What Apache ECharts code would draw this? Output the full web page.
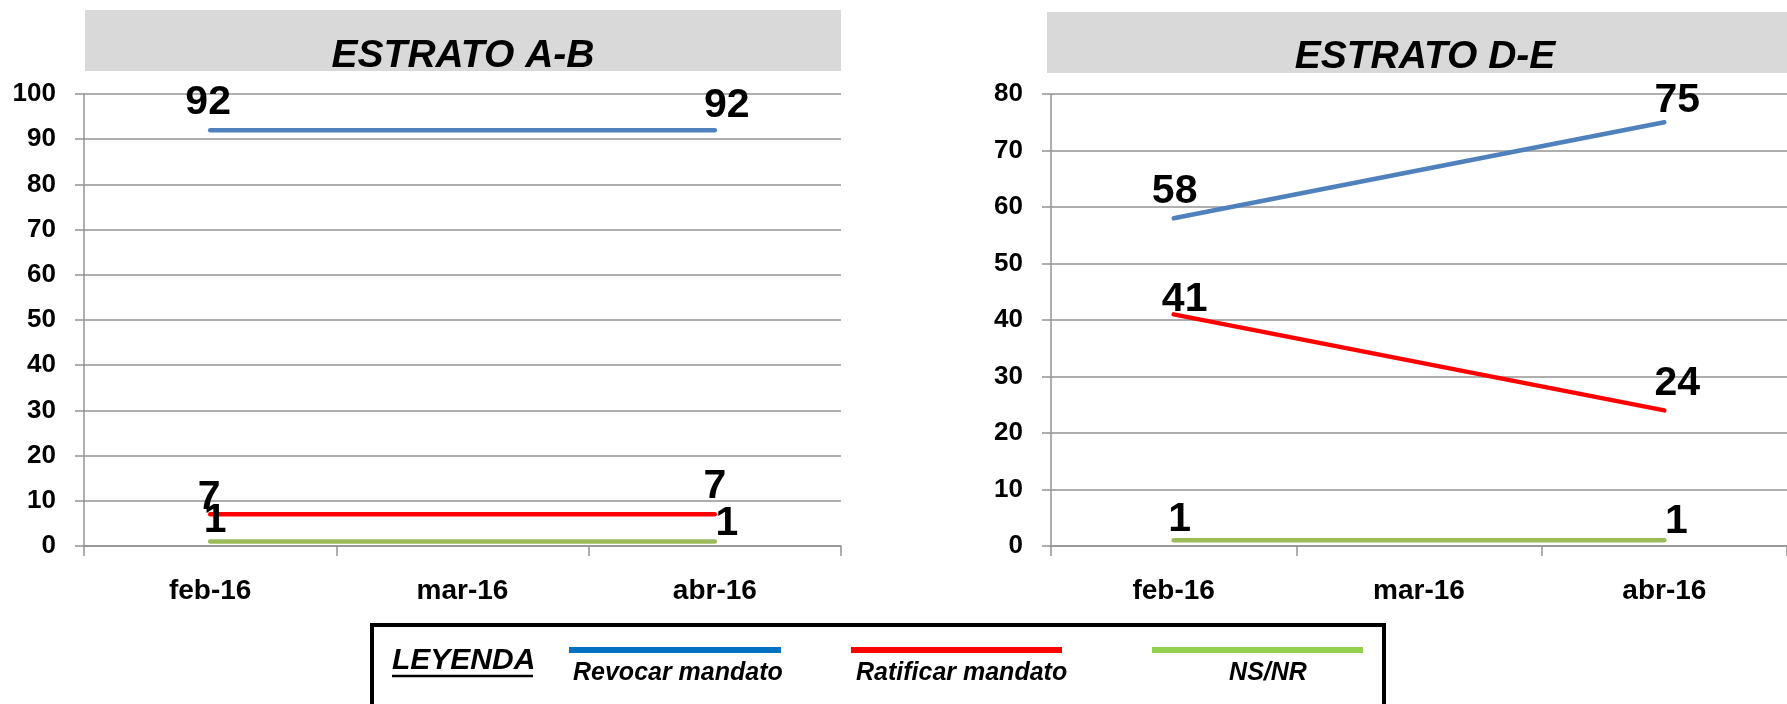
<!DOCTYPE html>
<html>
<head>
<meta charset="utf-8">
<title>Estrato A-B / D-E</title>
<script src="https://cdn.jsdelivr.net/npm/echarts@6/dist/echarts.min.js"></script>
<style>
  html, body { margin: 0; padding: 0; background: #fff; }
  #chart { width: 1787px; height: 704px; }
</style>
</head>
<body>
<div id="chart"></div>
<script>
// datos
var months = ['feb-16', 'mar-16', 'abr-16'];
var seriesNames = ['Revocar mandato', 'Ratificar mandato', 'NS/NR'];
var estratoAB_revocar = [92, null, 92];
var estratoAB_ratificar = [7, null, 7];
var estratoAB_nsnr = [1, null, 1];
var estratoDE_revocar = [58, null, 75];
var estratoDE_ratificar = [41, null, 24];
var estratoDE_nsnr = [1, null, 1];
var panelTitles = ['ESTRATO A-B', 'ESTRATO D-E'];

var FONT = '"Liberation Sans", Arial, sans-serif';
var lineColors = ['#4F81BD', '#FF0000', '#9BBB59'];
var legendColors = ['#0070C0', '#FF0000', '#92D050'];
var gridColor = '#939393';

// desplazamiento de etiquetas (como en el original, a mano)
var labelNudge = {
  ab: [[[-2, -14], [12, -11]], [[-1, -4], [0, -15]], [[5, -8], [12, -5]]],
  de: [[[1, -14], [13, -9]], [[11, -2], [13, -14]], [[6, -8], [12, -6]]]
};

function points(values, nudges) {
  var k = 0;
  return values.map(function (v) {
    if (v == null) return null;
    var n = nudges[k++];
    return { value: v, label: { offset: [n[0], n[1] + 8] } };
  });
}

function makeSeries(gridIdx, lists, nudges) {
  return lists.map(function (vals, i) {
    return {
      name: seriesNames[i],
      type: 'line',
      xAxisIndex: gridIdx,
      yAxisIndex: gridIdx,
      data: points(vals, nudges[i]),
      connectNulls: true,
      symbol: 'circle',
      symbolSize: 1,
      itemStyle: { color: lineColors[i] },
      lineStyle: { color: lineColors[i], width: 4.5, cap: 'round' },
      label: {
        show: true, position: 'top', distance: 0,
        fontFamily: FONT, fontSize: 41, fontWeight: 'bold', color: '#000'
      },
      animation: false
    };
  });
}

function xAxis(gridIdx) {
  return {
    type: 'category', gridIndex: gridIdx, data: months,
    axisLine: { show: true, lineStyle: { color: gridColor, width: 1.5 } },
    axisTick: { show: true, length: 10, lineStyle: { color: gridColor, width: 1.5 } },
    axisLabel: { margin: 31, fontFamily: FONT, fontSize: 28, fontWeight: 'bold', color: '#000' }
  };
}

function yAxis(gridIdx, max) {
  return {
    type: 'value', gridIndex: gridIdx, min: 0, max: max, interval: 10,
    axisLine: { show: true, lineStyle: { color: gridColor, width: 1.5 } },
    axisTick: { show: true, length: 9, lineStyle: { color: gridColor, width: 1.5 } },
    splitLine: { show: true, lineStyle: { color: gridColor, width: 1.5 } },
    axisLabel: { margin: 28, fontFamily: FONT, fontSize: 26, fontWeight: 'bold', color: '#000' }
  };
}

var graphics = [
  { type: 'rect', shape: { x: 85, y: 10, width: 756, height: 61 }, style: { fill: '#D9D9D9' }, z: 0 },
  { type: 'rect', shape: { x: 1047, y: 12, width: 740, height: 61 }, style: { fill: '#D9D9D9' }, z: 0 },
  { type: 'text', x: 463, y: 56, style: { text: panelTitles[0], font: 'italic bold 39px ' + FONT, fill: '#000', align: 'center', verticalAlign: 'middle' }, z: 1 },
  { type: 'text', x: 1425, y: 57, style: { text: panelTitles[1], font: 'italic bold 39px ' + FONT, fill: '#000', align: 'center', verticalAlign: 'middle' }, z: 1 },
  // cuadro de leyenda
  { type: 'rect', shape: { x: 372, y: 625, width: 1012, height: 110 }, style: { fill: 'none', stroke: '#000', lineWidth: 4 }, z: 1 },
  { type: 'text', x: 392, y: 661, style: { text: 'LEYENDA', font: 'italic bold 30px ' + FONT, fill: '#000', align: 'left', verticalAlign: 'middle' }, z: 1 },
  { type: 'line', shape: { x1: 392, y1: 676, x2: 533, y2: 676 }, style: { stroke: '#000', lineWidth: 2.5 }, z: 1 }
];

var legendLines = [[569, 781], [851, 1062], [1152, 1363]];
var legendText = [[573, 'left'], [856, 'left'], [1268, 'center']];
seriesNames.forEach(function (name, i) {
  graphics.push({ type: 'line', shape: { x1: legendLines[i][0], y1: 650, x2: legendLines[i][1], y2: 650 },
    style: { stroke: legendColors[i], lineWidth: 6 }, z: 1 });
  graphics.push({ type: 'text', x: legendText[i][0], y: 673,
    style: { text: name, font: 'italic bold 25px ' + FONT, fill: '#000', align: legendText[i][1], verticalAlign: 'middle' }, z: 1 });
});

var chart = echarts.init(document.getElementById('chart'), null, { renderer: 'canvas' });
chart.setOption({
  animation: false,
  backgroundColor: '#fff',
  grid: [
    { left: 84, top: 94, width: 757, height: 452 },
    { left: 1051, top: 94, width: 736, height: 452 }
  ],
  xAxis: [xAxis(0), xAxis(1)],
  yAxis: [yAxis(0, 100), yAxis(1, 80)],
  series: makeSeries(0, [estratoAB_revocar, estratoAB_ratificar, estratoAB_nsnr], labelNudge.ab)
    .concat(makeSeries(1, [estratoDE_revocar, estratoDE_ratificar, estratoDE_nsnr], labelNudge.de)),
  graphic: graphics
});
</script>
</body>
</html>
